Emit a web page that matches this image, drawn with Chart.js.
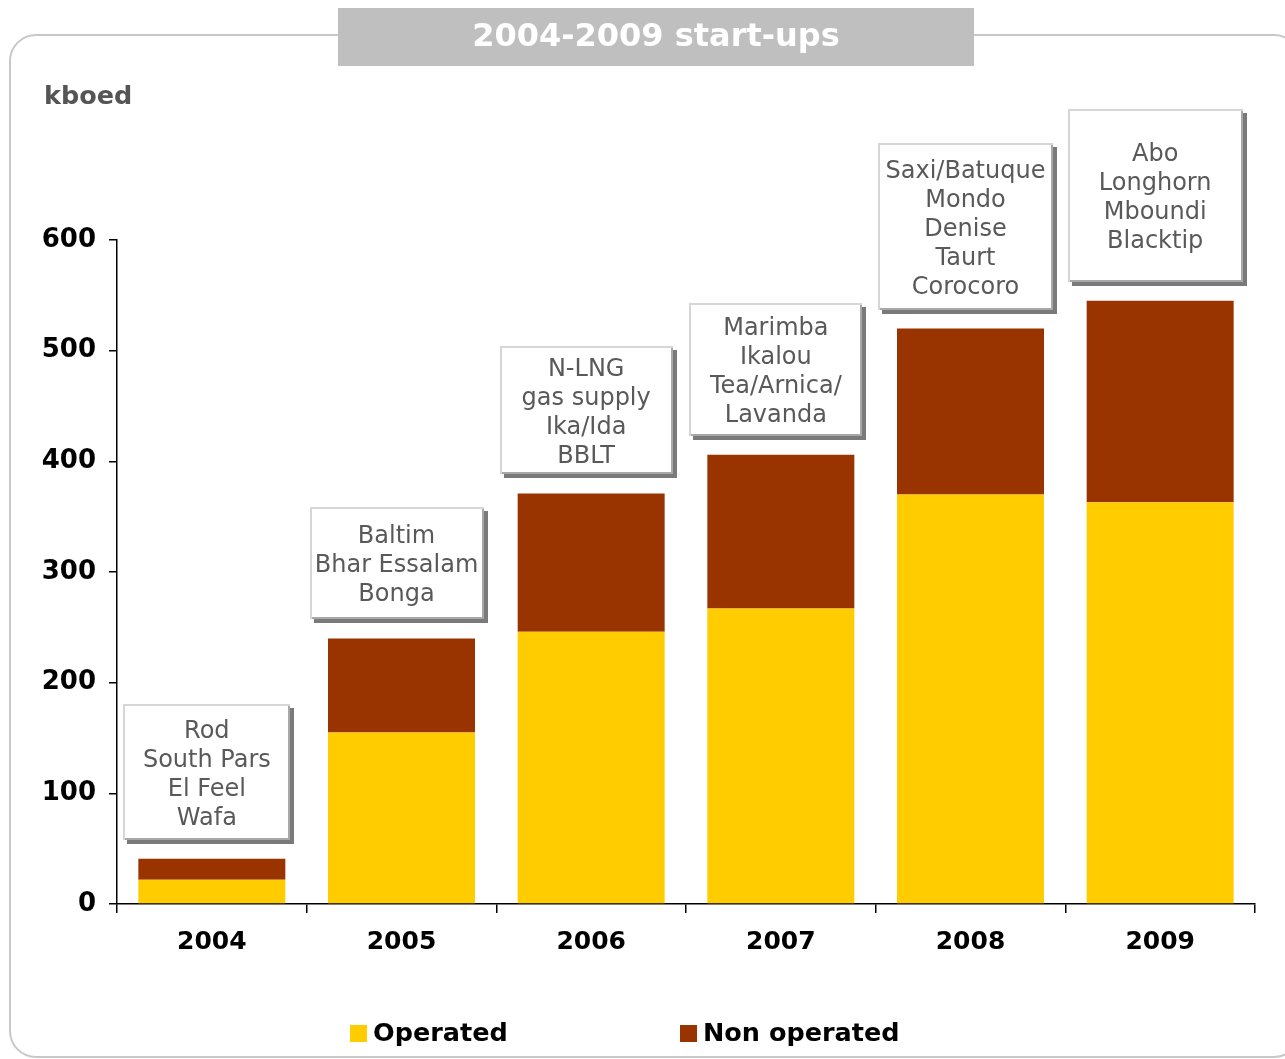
<!DOCTYPE html>
<html>
<head>
<meta charset="utf-8">
<script src="https://cdn.jsdelivr.net/npm/chart.js@4.4.0/dist/chart.umd.min.js"></script>
<style>
  html, body { margin: 0; padding: 0; background: #ffffff; }
  #wrap { position: relative; width: 1285px; height: 1059px; }
</style>
</head>
<body>
<div id="wrap"><canvas id="c" width="1285" height="1059"></canvas></div>
<script>
// ---- data ----
const years = ['2004', '2005', '2006', '2007', '2008', '2009'];
const operated = [22, 155, 246, 267, 370, 363];
const nonOperated = [19, 85, 125, 139, 150, 182];
const yTicks = [0, 100, 200, 300, 400, 500, 600];
const projectNotes = [
  ['Rod', 'South Pars', 'El Feel', 'Wafa'],
  ['Baltim', 'Bhar Essalam', 'Bonga'],
  ['N-LNG', 'gas supply', 'Ika/Ida', 'BBLT'],
  ['Marimba', 'Ikalou', 'Tea/Arnica/', 'Lavanda'],
  ['Saxi/Batuque', 'Mondo', 'Denise', 'Taurt', 'Corocoro'],
  ['Abo', 'Longhorn', 'Mboundi', 'Blacktip']
];
const titleText = '2004-2009 start-ups';
const unitText = 'kboed';
const seriesNames = ['Operated', 'Non operated'];

// ---- styles ----
const COL_OP = '#FFCC00';
const COL_NON = '#993300';
const FONT = '"DejaVu Sans", Verdana, sans-serif';
const noteBoxW = [167, 174, 173, 173, 175, 175];
const noteBoxH = [136, 112, 128, 133, 167, 173];

const decorPlugin = {
  id: 'decor',
  beforeDraw(chart) {
    const ctx = chart.ctx;
    ctx.save();
    // outer rounded frame
    ctx.strokeStyle = '#c8c8c8';
    ctx.lineWidth = 2;
    ctx.beginPath();
    ctx.roundRect(10, 35, 1290, 1022, 26);
    ctx.stroke();
    // title box
    ctx.fillStyle = '#bfbfbf';
    ctx.fillRect(338, 8, 636, 58);
    ctx.fillStyle = '#ffffff';
    ctx.font = 'bold 32px ' + FONT;
    ctx.textAlign = 'center';
    ctx.textBaseline = 'middle';
    ctx.fillText(titleText, 656, 38);
    // unit label
    ctx.fillStyle = '#555555';
    ctx.font = 'bold 25.5px ' + FONT;
    ctx.textAlign = 'left';
    ctx.fillText(unitText, 44, 97);
    // legend
    const items = [
      { name: seriesNames[0], color: COL_OP, x: 350 },
      { name: seriesNames[1], color: COL_NON, x: 680 }
    ];
    ctx.font = 'bold 25.5px ' + FONT;
    items.forEach(it => {
      ctx.fillStyle = it.color;
      ctx.fillRect(it.x, 1025, 17, 17);
      ctx.fillStyle = '#000000';
      ctx.fillText(it.name, it.x + 23, 1034);
    });
    ctx.restore();
  },
  afterDatasetsDraw(chart) {
    const ctx = chart.ctx;
    const xs = chart.scales.x, ys = chart.scales.y;
    ctx.save();
    projectNotes.forEach((lines, i) => {
      const total = operated[i] + nonOperated[i];
      const cx = xs.getPixelForValue(i) - 5;
      const barTop = ys.getPixelForValue(total);
      const w = noteBoxW[i], h = noteBoxH[i];
      const bx = Math.round(cx - w / 2), by = Math.round(barTop - 19 - h);
      // shadow
      ctx.fillStyle = '#7a7a7a';
      ctx.fillRect(bx + 4, by + 4, w, h);
      // light frame
      ctx.fillStyle = '#d6d6d6';
      ctx.fillRect(bx, by, w, h);
      ctx.fillStyle = '#a8a8a8';
      ctx.fillRect(bx + 2, by + 2, w - 2, h - 2);
      ctx.fillStyle = '#ffffff';
      ctx.fillRect(bx + 2, by + 2, w - 4, h - 4);
      // text
      ctx.fillStyle = '#595959';
      ctx.font = '24px ' + FONT;
      ctx.textAlign = 'center';
      ctx.textBaseline = 'middle';
      const lh = 29;
      const startY = by + h / 2 + 3 - (lines.length - 1) * lh / 2;
      lines.forEach((t, k) => ctx.fillText(t, cx, startY + k * lh));
    });
    ctx.restore();
  }
};

new Chart(document.getElementById('c'), {
  type: 'bar',
  data: {
    labels: years,
    datasets: [
      { label: seriesNames[0], data: operated, backgroundColor: COL_OP, borderWidth: 0 },
      { label: seriesNames[1], data: nonOperated, backgroundColor: COL_NON, borderWidth: 0 }
    ]
  },
  options: {
    responsive: false,
    animation: false,
    devicePixelRatio: 1,
    layout: { padding: { left: 0, right: 30, top: 240, bottom: 95 } },
    datasets: { bar: { barPercentage: 0.775, categoryPercentage: 1.0 } },
    plugins: { legend: { display: false }, tooltip: { enabled: false }, title: { display: false } },
    scales: {
      x: {
        stacked: true,
        offset: true,
        afterFit(s) { s.height = 60; },
        border: { display: true, color: '#000000', width: 1.5 },
        grid: { offset: true, drawOnChartArea: false, drawTicks: true, tickLength: 9, color: '#000000', lineWidth: 1.5 },
        ticks: { color: '#000000', font: { family: FONT, size: 25, weight: 'bold' }, padding: 14 }
      },
      y: {
        stacked: true,
        min: 0,
        max: 600,
        afterFit(s) { s.width = 117; },
        afterBuildTicks(s) { s.ticks = yTicks.map(v => ({ value: v })); },
        border: { display: true, color: '#000000', width: 1.5 },
        grid: { drawOnChartArea: false, drawTicks: true, tickLength: 8, color: '#000000', lineWidth: 1.5 },
        ticks: { color: '#000000', font: { family: FONT, size: 26, weight: 'bold' }, padding: 13 }
      }
    }
  },
  plugins: [decorPlugin]
});
</script>
</body>
</html>
